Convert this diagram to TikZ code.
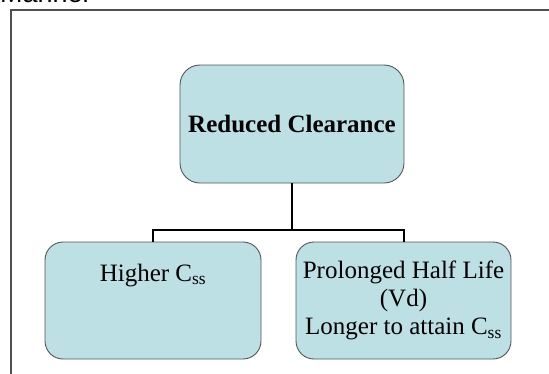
\documentclass[tikz,border=0pt]{standalone}
\usepackage{fontspec}
\setmainfont{Liberation Serif}
\newfontfamily\capfont{Liberation Sans}
\usepackage{xcolor}
\usetikzlibrary{positioning, calc}

\definecolor{boxfill}{RGB}{188,224,227}
\definecolor{boxline}{RGB}{85,85,85}
\definecolor{frameline}{RGB}{80,80,80}

\begin{document}
\begin{tikzpicture}[
    x=1pt, y=-1pt,
    box/.style={
        draw=boxline,
        fill=boxfill,
        line width=0.9pt,
        rounded corners=18pt,
        align=center,
        inner sep=4pt,
        font=\fontsize{25}{28}\selectfont
    },
    link/.style={draw, line width=2pt}
]
\useasboundingbox (0,0) rectangle (549,373);

% slide frame, cut off at right and bottom
\draw[frameline, line width=1.5pt] (11,380) -- (11,10) -- (556,10);
\node[anchor=base west, inner sep=0pt, font=\capfont\fontsize{27}{30}\selectfont] (caption) at (0,2) {Manner};

\node[box, minimum width=224pt, minimum height=118pt, rounded corners=20pt,
      font=\bfseries\fontsize{25}{28}\selectfont] (clear) at (292,124) {Reduced Clearance};

\node[box, minimum width=216pt, minimum height=117pt] (css) at (153,300.5)
    {Higher C\textsubscript{ss}\\ ~\\ ~};
\node[box, minimum width=215pt, minimum height=117pt] (halflife) at (403.5,300.5)
    {Prolonged Half Life\\(Vd)\\Longer to attain C\textsubscript{ss}};

\coordinate (bus) at (292,230);
\draw[link] (clear.south) -- (bus);
\draw[link] (css.north) |- (bus) -| (halflife.north);

\end{tikzpicture}
\end{document}
